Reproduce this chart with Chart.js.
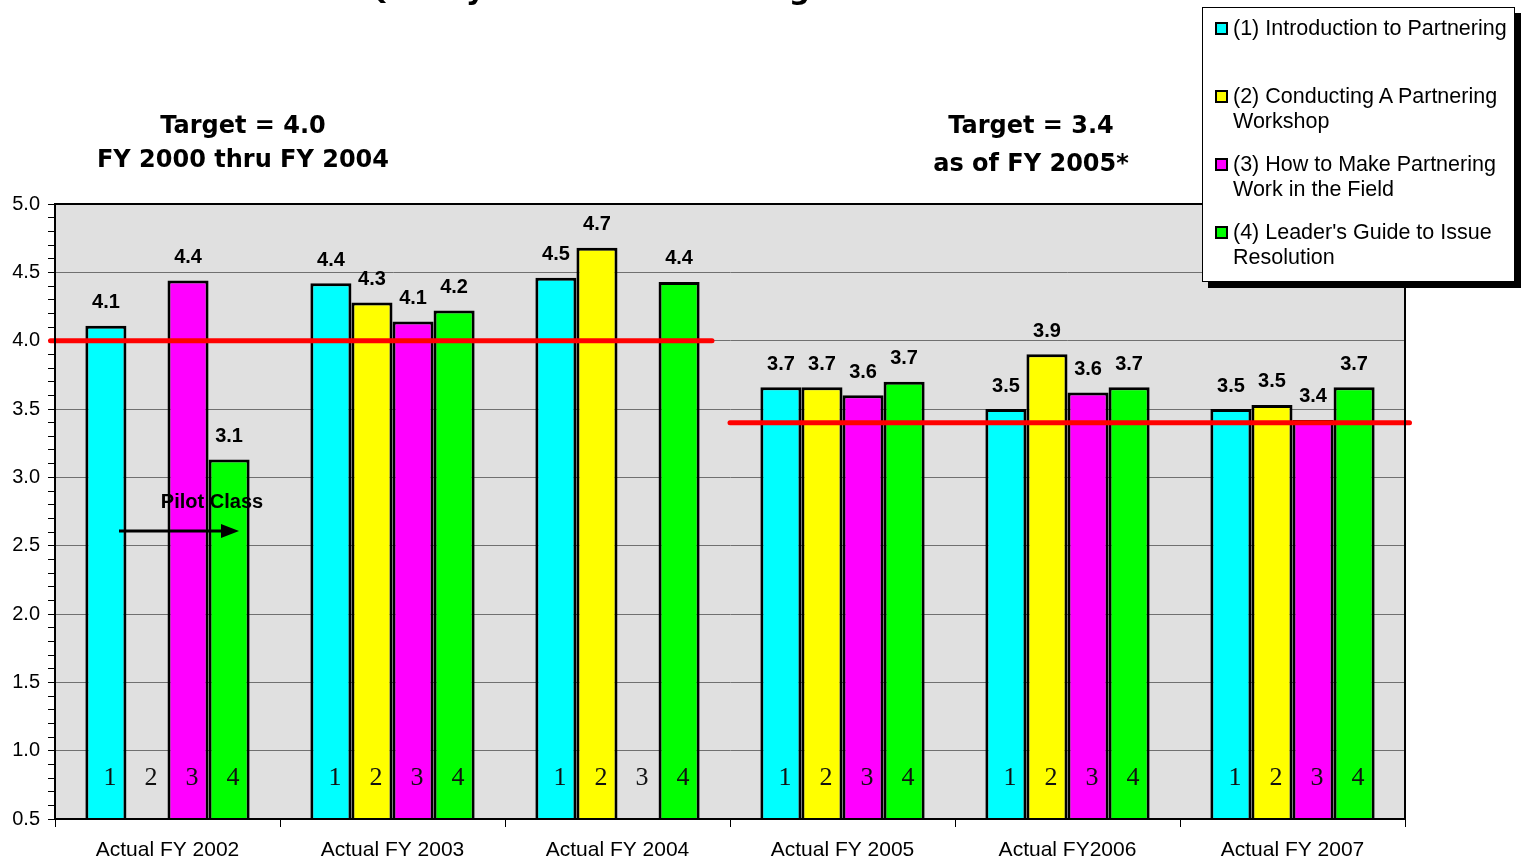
<!DOCTYPE html>
<html>
<head>
<meta charset="utf-8">
<script src="https://cdn.jsdelivr.net/npm/chart.js@4.4.1/dist/chart.umd.min.js"></script>
<style>
  body { margin: 0; background: #fff; }
  #wrap { position: relative; width: 1525px; height: 862px; }
  #legend {
    position: absolute; left: 1202px; top: 7px; width: 313px; height: 275px;
    box-sizing: border-box; background: #fff; border: 1px solid #000;
    box-shadow: 6px 6px 0 #000; padding-top: 8px;
    font-family: "Liberation Sans", Arial, sans-serif; font-size: 21.5px; color: #000;
  }
  .item { display: flex; height: 68px; line-height: 25px; }
  .sw { width: 9px; height: 9px; border: 2px solid #000; margin: 6px 5px 0 12px; flex: none; }
  .txt { width: 285px; }
</style>
</head>
<body>
<div id="wrap">
  <canvas id="chart" width="1525" height="862"></canvas>
  <div id="legend"></div>
</div>
<script>
// categories and series
const categories = ['Actual FY 2002', 'Actual FY 2003', 'Actual FY 2004', 'Actual FY 2005', 'Actual FY2006', 'Actual FY 2007'];
const seriesNames = [
  '(1) Introduction to Partnering',
  '(2) Conducting A Partnering Workshop',
  '(3) How to Make Partnering Work in the Field',
  "(4) Leader's Guide to Issue Resolution"
];
const seriesColors = ['#00FFFF', '#FFFF00', '#FF00FF', '#00FF00'];
const introValues = [4.11, 4.42, 4.46, 3.66, 3.50, 3.50];
const workshopValues = [null, 4.28, 4.68, 3.66, 3.90, 3.53];
const fieldValues = [4.44, 4.14, null, 3.60, 3.62, 3.42];
const issueValues = [3.13, 4.22, 4.43, 3.70, 3.66, 3.66];

// target lines: value and span in category index units
const targetValues = [4.0, 3.4];
const targetFrom = [-0.52, 2.5];
const targetTo = [2.42, 5.52];

const yMin = 0.5, yMax = 5.0;

const allValues = [introValues, workshopValues, fieldValues, issueValues];

// build the HTML legend
const legendEl = document.getElementById('legend');
seriesNames.forEach((name, i) => {
  const row = document.createElement('div');
  row.className = 'item';
  const sw = document.createElement('div');
  sw.className = 'sw';
  sw.style.background = seriesColors[i];
  const txt = document.createElement('div');
  txt.className = 'txt';
  txt.textContent = name;
  row.appendChild(sw);
  row.appendChild(txt);
  legendEl.appendChild(row);
});

const isMajor = v => Math.round(v * 10) % 5 === 0;

const decorPlugin = {
  id: 'decor',
  beforeDraw(chart) {
    const { ctx, chartArea: a } = chart;
    ctx.save();
    ctx.fillStyle = '#e0e0e0';
    ctx.fillRect(a.left, a.top, a.right - a.left, a.bottom - a.top);
    ctx.restore();
  },
  afterDatasetsDraw(chart) {
    const { ctx, chartArea: a } = chart;
    const x = chart.scales.x, y = chart.scales.y;
    ctx.save();

    // class numbers at the foot of each bar slot
    ctx.font = '26px "Liberation Serif", "Times New Roman", serif';
    ctx.fillStyle = '#111';
    ctx.textAlign = 'center';
    ctx.textBaseline = 'middle';
    chart.data.datasets.forEach((ds, i) => {
      const meta = chart.getDatasetMeta(i);
      meta.data.forEach(el => {
        ctx.fillText(String(i + 1), el.x + 4, y.getPixelForValue(0.8));
      });
    });

    // red target lines
    ctx.strokeStyle = '#FF0000';
    ctx.lineWidth = 5;
    ctx.lineCap = 'round';
    targetValues.forEach((t, i) => {
      const py = y.getPixelForValue(t);
      ctx.beginPath();
      ctx.moveTo(x.getPixelForValue(targetFrom[i]), py);
      ctx.lineTo(x.getPixelForValue(targetTo[i]), py);
      ctx.stroke();
    });

    // value labels
    ctx.font = 'bold 20px "Liberation Sans", Arial, sans-serif';
    ctx.fillStyle = '#000';
    chart.data.datasets.forEach((ds, i) => {
      const meta = chart.getDatasetMeta(i);
      ds.data.forEach((v, j) => {
        if (v === null) return;
        const el = meta.data[j];
        ctx.fillText(v.toFixed(1), el.x, el.y - 23);
      });
    });

    // pilot class note and arrow
    ctx.fillText('Pilot Class', a.left + 157, a.top + 298);
    const ay = a.top + 327;
    ctx.strokeStyle = '#000';
    ctx.lineWidth = 3;
    ctx.lineCap = 'butt';
    ctx.beginPath();
    ctx.moveTo(a.left + 64, ay);
    ctx.lineTo(a.left + 170, ay);
    ctx.stroke();
    ctx.beginPath();
    ctx.moveTo(a.left + 184, ay);
    ctx.lineTo(a.left + 166, ay - 7);
    ctx.lineTo(a.left + 166, ay + 7);
    ctx.closePath();
    ctx.fill();

    // target captions
    ctx.font = 'bold 24px "DejaVu Sans", Verdana, sans-serif';
    ctx.fillText('Target = 4.0', 243, 127);
    ctx.fillText('FY 2000 thru FY 2004', 243, 161);
    ctx.fillText('Target = 3.4', 1031, 127);
    ctx.fillText('as of FY 2005*', 1031, 165);

    // title, mostly cut off at the top edge
    ctx.font = 'bold 30px "DejaVu Sans", Verdana, sans-serif';
    ctx.textBaseline = 'alphabetic';
    ctx.fillText('Quality of Each Partnering Class Course', 700, -1);

    // plot frame
    ctx.strokeStyle = '#000';
    ctx.lineWidth = 2;
    ctx.strokeRect(a.left, a.top, a.right - a.left, a.bottom - a.top);
    ctx.restore();
  }
};

new Chart(document.getElementById('chart'), {
  type: 'bar',
  data: {
    labels: categories,
    datasets: allValues.map((vals, i) => ({
      label: seriesNames[i],
      data: vals,
      backgroundColor: seriesColors[i],
      borderColor: '#000',
      borderWidth: 3,
      categoryPercentage: 0.73,
      barPercentage: 1.0
    }))
  },
  options: {
    responsive: false,
    animation: false,
    layout: { padding: { left: 0, top: 204, right: 120, bottom: 0 } },
    plugins: {
      legend: { display: false },
      tooltip: { enabled: false }
    },
    scales: {
      x: {
        grid: { offset: true, drawOnChartArea: false, tickLength: 8, tickColor: '#000' },
        border: { color: '#000', width: 2 },
        ticks: {
          color: '#000', padding: 11,
          font: { family: '"Liberation Sans", Arial, sans-serif', size: 21 }
        },
        afterFit(scale) { scale.height = 43; }
      },
      y: {
        min: yMin,
        max: yMax,
        grid: {
          color: c => isMajor(c.tick.value) ? '#707070' : 'rgba(0,0,0,0)',
          tickColor: '#000',
          tickLength: 7
        },
        border: { color: '#000', width: 2 },
        ticks: {
          stepSize: 0.1,
          autoSkip: false,
          maxTicksLimit: 100,
          color: '#000',
          padding: 8,
          font: { family: '"Liberation Sans", Arial, sans-serif', size: 20 },
          callback: v => isMajor(v) ? (Math.round(v * 10) / 10).toFixed(1) : ''
        },
        afterFit(scale) { scale.width = 55; }
      }
    }
  },
  plugins: [decorPlugin]
});
</script>
</body>
</html>
